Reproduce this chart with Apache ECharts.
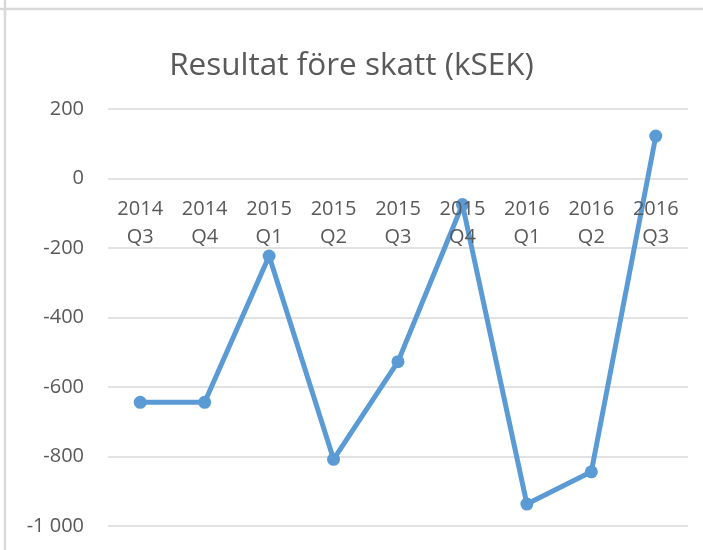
<!DOCTYPE html>
<html>
<head>
<meta charset="utf-8">
<script src="https://cdn.jsdelivr.net/npm/echarts@6/dist/echarts.min.js"></script>
<style>
  html, body { margin: 0; padding: 0; background: #fff; }
  #main { width: 703px; height: 550px; }
</style>
</head>
<body>
<div id="main"></div>
<script>
// kvartal och resultat (kSEK)
var quarters = ['2014\nQ3', '2014\nQ4', '2015\nQ1', '2015\nQ2', '2015\nQ3', '2015\nQ4', '2016\nQ1', '2016\nQ2', '2016\nQ3'];
var resultat = [-644, -644, -223, -808, -527, -75, -937, -844, 122];
var yTicks = { min: -1000, max: 200, step: 200 };

var textColor = '#595959';
var gridColor = '#d9d9d9';
var font = 'Open Sans';

var gridTop = 109, gridBottom = 24, H = 550;
// flytta x-axeln ner till y = 0 (som i Excel)
var zeroOffset = -(H - gridTop - gridBottom) * (yTicks.max / (yTicks.max - yTicks.min));

var myChart = echarts.init(document.getElementById('main'));

myChart.setOption({
    animation: false,
    title: {
        text: 'Resultat före skatt (kSEK)',
        left: 'center',
        top: 45,
        textStyle: { fontFamily: font, fontSize: 31.5, fontWeight: 'normal', color: textColor }
    },
    graphic: [
        { type: 'line', shape: { x1: 5, y1: 0, x2: 5, y2: 550 }, style: { stroke: gridColor, lineWidth: 2.5 } },
        { type: 'line', shape: { x1: 0, y1: 9, x2: 703, y2: 9 }, style: { stroke: gridColor, lineWidth: 2.5 } }
    ],
    grid: { left: 108, right: 15, top: gridTop, bottom: gridBottom, containLabel: false, outerBoundsMode: 'none' },
    xAxis: {
        type: 'category',
        data: quarters,
        position: 'top',
        offset: zeroOffset,
        z: 5,
        axisLine: { show: false, onZero: false },
        axisTick: { show: false },
        axisLabel: {
            inside: true,
            color: textColor, fontFamily: font, fontSize: 20, lineHeight: 28, margin: 17
        }
    },
    yAxis: {
        type: 'value',
        min: yTicks.min,
        max: yTicks.max,
        interval: yTicks.step,
        axisLine: { show: false },
        axisTick: { show: false },
        splitLine: { lineStyle: { color: gridColor, width: 1.5 } },
        axisLabel: {
            color: textColor, fontFamily: font, fontSize: 20, margin: 24,
            formatter: function (v) {
                return String(v).replace(/\B(?=(\d{3})+(?!\d))/g, ' ');
            }
        }
    },
    series: [{
        type: 'line',
        data: resultat,
        symbol: 'circle',
        symbolSize: 13,
        lineStyle: { color: '#5b9bd5', width: 5 },
        itemStyle: { color: '#5b9bd5' }
    }]
});
</script>
</body>
</html>
